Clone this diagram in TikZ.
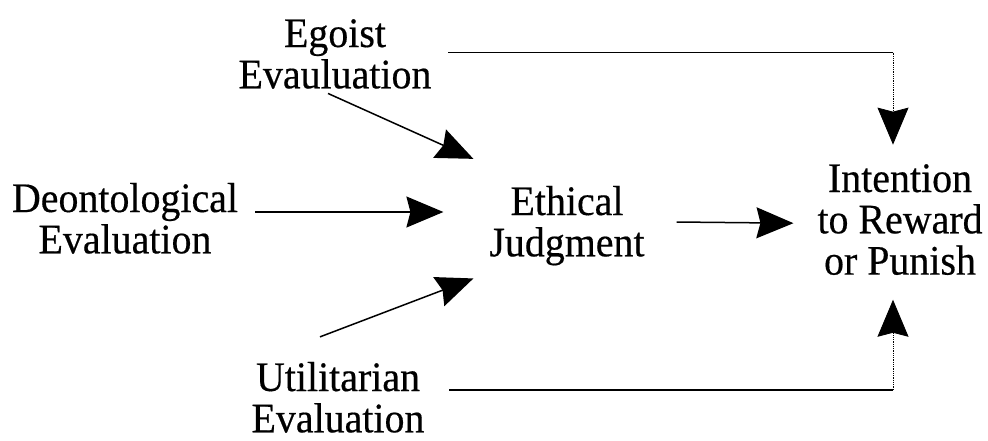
\documentclass[tikz,border=0pt]{standalone}
\usepackage{fontspec}
\setmainfont{Liberation Serif}[FakeStretch=0.95,FakeBold=0.4]
\usetikzlibrary{arrows.meta,calc}
\begin{document}
\begin{tikzpicture}[x=1pt,y=-1pt,
  lbl/.style={inner sep=0pt, outer sep=0pt, anchor=base, font=\fontsize{42}{40.5}\selectfont},
  conn/.style={line width=1.5pt, -{Stealth[length=37pt,width=31pt,inset=4pt]}},
  plainline/.style={line width=1.4pt},
  faintline/.style={line width=0.8pt, densely dotted, -{Stealth[length=37pt,width=31pt,inset=4pt]}}]
\fill[white] (0,0) rectangle (988,440);
\useasboundingbox (0,0) rectangle (988,440);

\node[lbl] (ego) at (335,47) {\begin{tabular}[t]{@{}c@{}}Egoist\\Evauluation\end{tabular}};
\node[lbl] (deon) at (125,212) {\begin{tabular}[t]{@{}c@{}}Deontological\\Evaluation\end{tabular}};
\node[lbl] (eth) at (567,215) {\begin{tabular}[t]{@{}c@{}}Ethical\\Judgment\end{tabular}};
\node[lbl] (util) at (338,391) {\begin{tabular}[t]{@{}c@{}}Utilitarian\\Evaluation\end{tabular}};
\node[lbl] (int) at (900,192) {\begin{tabular}[t]{@{}c@{}}Intention\\to Reward\\or Punish\end{tabular}};

% inputs to Ethical Judgment
\draw[conn] ($(ego.south)+(-7,-7)$) -- ($(eth.north west)+(-16,-27)$);
\draw[conn] ($(deon.base east)+(17,0)$) -- ($(eth.base west)+(-46,-3)$);
\draw[conn] ($(util.north)+(-18,-25)$) -- ($(eth.south west)+(-16,10)$);

% Ethical Judgment to Intention
\draw[conn] ($(eth.base east)+(32,7)$) -- ($(int.west)+(-24,-2)$);

% direct paths
\coordinate (egoout) at ($(ego.east)+(17,-7)$);
\coordinate (intin) at ($(int.north)+(-7,-19)$);
\draw[plainline] (egoout) -- (egoout -| intin) coordinate (topc);
\draw[faintline] (topc) -- (intin);

\coordinate (utilout) at ($(util.base east)+(25,-1)$);
\coordinate (intbot) at ($(int.south)+(-7,13)$);
\draw[plainline] (utilout) -- (utilout -| intbot) coordinate (botc);
\draw[faintline] (botc) -- (intbot);
\end{tikzpicture}
\end{document}
